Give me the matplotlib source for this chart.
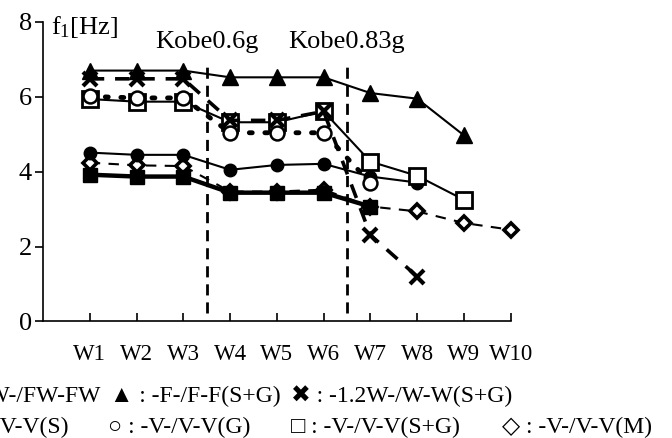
import matplotlib
matplotlib.use("Agg")
import matplotlib.pyplot as plt

plt.rcParams['font.family'] = ['Liberation Serif', 'DejaVu Sans']
plt.rcParams['mathtext.fontset'] = 'custom'
plt.rcParams['mathtext.rm'] = 'Liberation Serif'
plt.rcParams['mathtext.it'] = 'Liberation Serif'

# data (first natural frequency per wave step)
labels = ['W1', 'W2', 'W3', 'W4', 'W5', 'W6', 'W7', 'W8', 'W9', 'W10']
fw_fw = [3.92, 3.87, 3.87, 3.44, 3.44, 3.44, 3.07]
f_f_sg = [6.70, 6.70, 6.70, 6.52, 6.52, 6.52, 6.10, 5.95, 4.97]
w_w_sg = [6.48, 6.48, 6.48, 5.37, 5.37, 5.61, 2.31, 1.20]
v_v_s = [4.51, 4.45, 4.45, 4.05, 4.18, 4.21, 3.87, 3.71]
v_v_g = [6.01, 5.97, 5.97, 5.04, 5.04, 5.04, 3.70]
v_v_sg = [5.94, 5.87, 5.87, 5.32, 5.32, 5.61, 4.27, 3.89, 3.25]
v_v_m = [4.24, 4.17, 4.15, 3.47, 3.47, 3.52, 3.07, 2.94, 2.63, 2.45]
kobe_x = [3.5, 6.5]
kobe_labels = ['Kobe0.6g', 'Kobe0.83g']

fig = plt.figure(figsize=(6.72, 4.38), dpi=100)
ax = fig.add_axes([0.064, 0.266, 0.696, 0.684])

def xs(vals):
    return list(range(1, len(vals) + 1))

# dashed open diamonds (partly hidden behind the filled squares)
ax.plot(xs(v_v_m), v_v_m, color='black', lw=1.5, ls=(0, (5, 4)), marker='D',
        ms=7.5, mfc='white', mec='black', mew=2.6, clip_on=False, zorder=3)
# thick solid filled squares
ax.plot(xs(fw_fw), fw_fw, color='black', lw=3.2, marker='s', ms=10,
        mfc='black', mec='black', clip_on=False, zorder=4)
# solid filled circles
ax.plot(xs(v_v_s), v_v_s, color='black', lw=1.5, marker='o', ms=9,
        mfc='black', mec='black', clip_on=False, zorder=4)
# solid open squares
ax.plot(xs(v_v_sg), v_v_sg, color='black', lw=1.5, marker='s', ms=12,
        mfc='white', mec='black', mew=2, clip_on=False, zorder=4)
# dotted open circles
ax.plot(xs(v_v_g), v_v_g, color='black', lw=3.5, ls=(0, (0.6, 2.6)),
        dash_capstyle='round', marker='o', ms=10, mfc='white', mec='black',
        mew=1.8, clip_on=False, zorder=5)
# thick dashed crosses
ax.plot(xs(w_w_sg), w_w_sg, color='black', lw=2.6, ls=(0, (4, 3)), marker='x',
        ms=10, mew=3, clip_on=False, zorder=6)
# solid filled triangles
ax.plot(xs(f_f_sg), f_f_sg, color='black', lw=1.5, marker='^', ms=11,
        mfc='black', mec='black', clip_on=False, zorder=6)

for xv, lab in zip(kobe_x, kobe_labels):
    ax.plot([xv, xv], [0.22, 6.85], color='black', lw=2, ls=(0, (4, 2.5)), zorder=2)
    ax.text(xv, 7.45, lab, ha='center', va='center', fontsize=19)

ax.text(0.17, 7.87, r'f$_\mathrm{1}$[Hz]', ha='left', va='center', fontsize=19)

ax.set_xlim(0, 10)
ax.set_ylim(0, 8)
ax.set_xticks(range(1, 11))
ax.set_xticklabels(labels)
ax.set_yticks([0, 2, 4, 6, 8])
ax.spines['top'].set_visible(False)
ax.spines['right'].set_visible(False)
ax.spines['left'].set_linewidth(1.2)
ax.spines['bottom'].set_linewidth(1.2)
ax.tick_params(axis='x', direction='in', length=6, width=1.2, pad=16, labelsize=16.5)
ax.tick_params(axis='y', direction='out', length=6, width=1.2, pad=2, labelsize=19)

# legend drawn as text rows under the axes (left end is cut off in the reference)
W, H = 672, 438
def ftxt(x, y, s, ha='left', size=17):
    fig.text(x / W, 1 - y / H, s, ha=ha, va='baseline', fontsize=size)

ftxt(100, 402, '■ : -FW-/FW-FW', ha='right')
ftxt(110, 402, '▲ : -F-/F-F(S+G)')
ftxt(291, 402, '✖ : -1.2W-/W-W(S+G)')
ftxt(68, 433, '● : -V-/V-V(S)', ha='right')
ftxt(108, 433, '○ : -V-/V-V(G)')
ftxt(291, 433, '□ : -V-/V-V(S+G)')
ftxt(502, 433, '◇ : -V-/V-V(M)')

fig.savefig('out.png', dpi=100)
